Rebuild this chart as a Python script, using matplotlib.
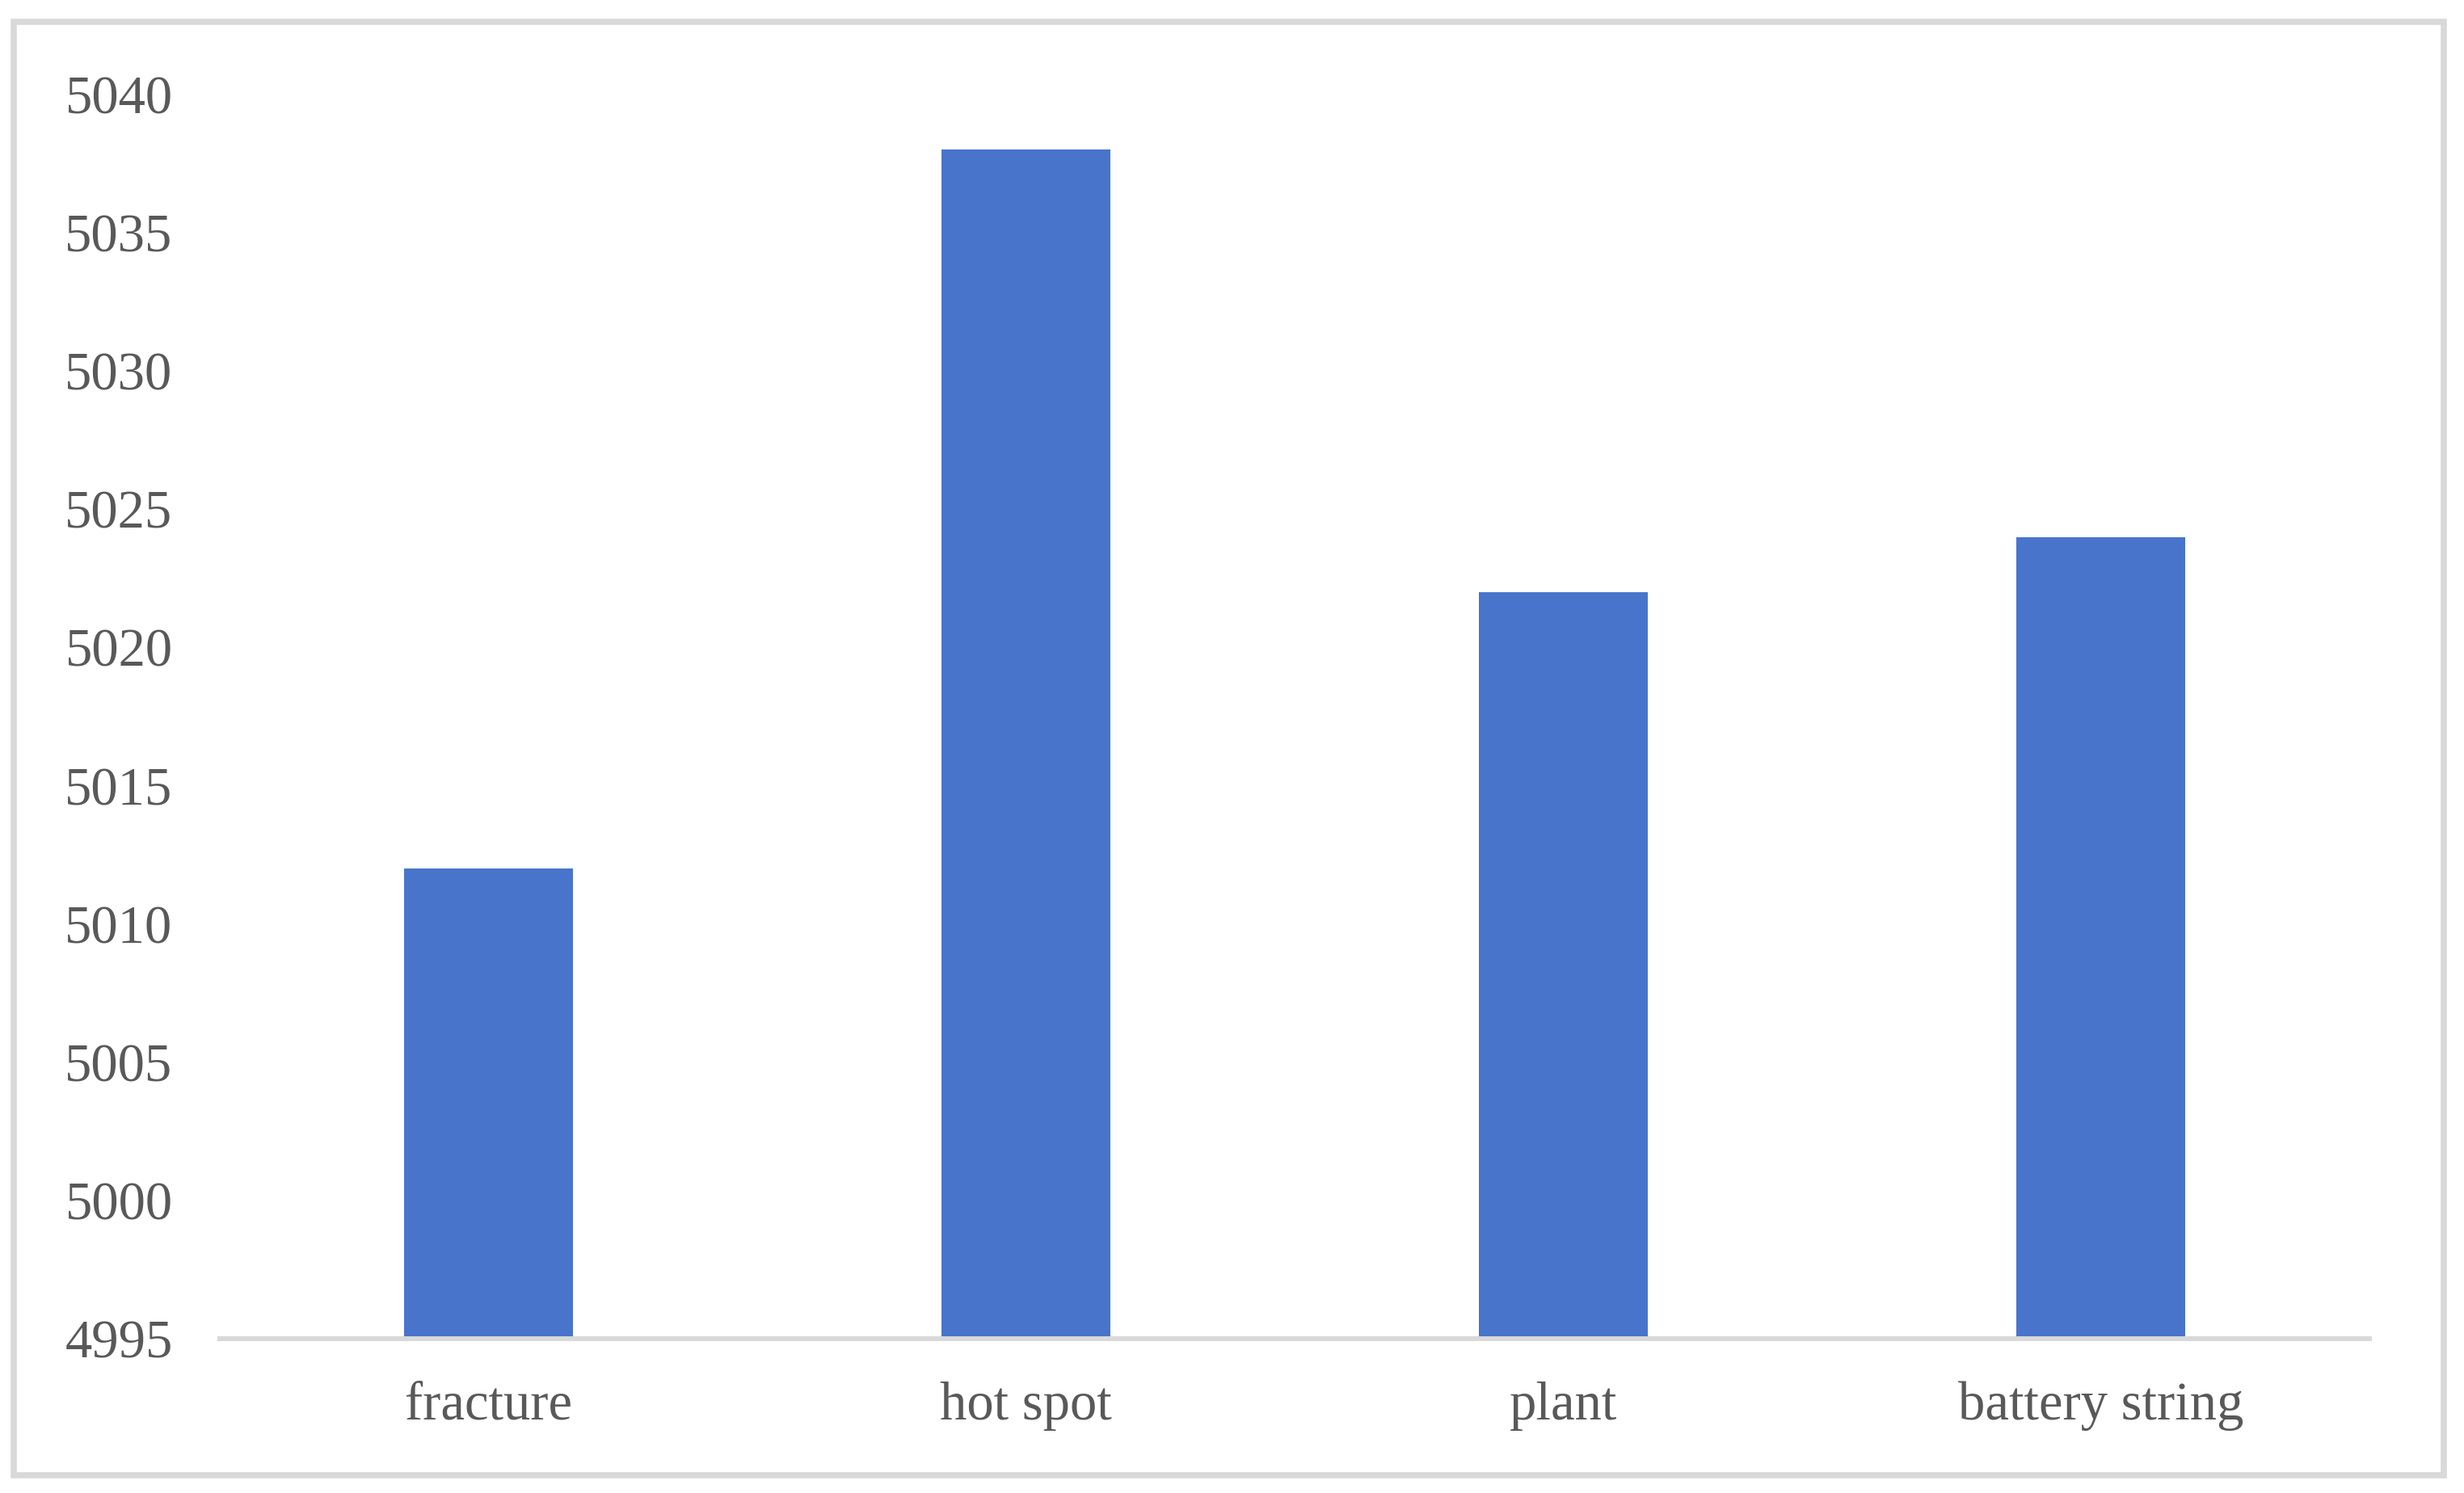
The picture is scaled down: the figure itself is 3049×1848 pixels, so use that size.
import matplotlib.pyplot as plt
from matplotlib.patches import Rectangle

categories = ['fracture', 'hot spot', 'plant', 'battery string']
values = [5012, 5038, 5022, 5024]
yticks = [4995, 5000, 5005, 5010, 5015, 5020, 5025, 5030, 5035, 5040]

plt.rcParams['font.family'] = ['Liberation Serif', 'DejaVu Serif']

W, H = 3049, 1848
fig = plt.figure(figsize=(W / 100, H / 100), dpi=100)

# light grey frame round the whole chart
fig.patches.append(Rectangle((17 / W, 1 - 1826 / H), (3024 - 17) / W, (1826 - 27) / H,
                             transform=fig.transFigure, fill=False,
                             edgecolor='#D9D9D9', linewidth=5.5))

ax = fig.add_axes([272 / W, 1 - 1657 / H, (2932 - 272) / W, (1657 - 117) / H])
ax.bar(range(len(categories)), values, width=0.314, color='#4874CB', bottom=0)

ax.set_xlim(-0.5, len(categories) - 0.5)
ax.set_ylim(4995, 5040)
ax.set_yticks(yticks)
ax.set_xticks(range(len(categories)))
ax.set_xticklabels(categories)

for s in ['top', 'right', 'left']:
    ax.spines[s].set_visible(False)
ax.spines['bottom'].set_color('#D9D9D9')
ax.spines['bottom'].set_linewidth(4.3)
ax.spines['bottom'].set_zorder(3)

ax.tick_params(axis='both', length=0, labelsize=48, labelcolor='#595959')
ax.tick_params(axis='y', pad=42)
ax.tick_params(axis='x', pad=38)

fig.savefig('out.png', dpi=100, facecolor='white')
